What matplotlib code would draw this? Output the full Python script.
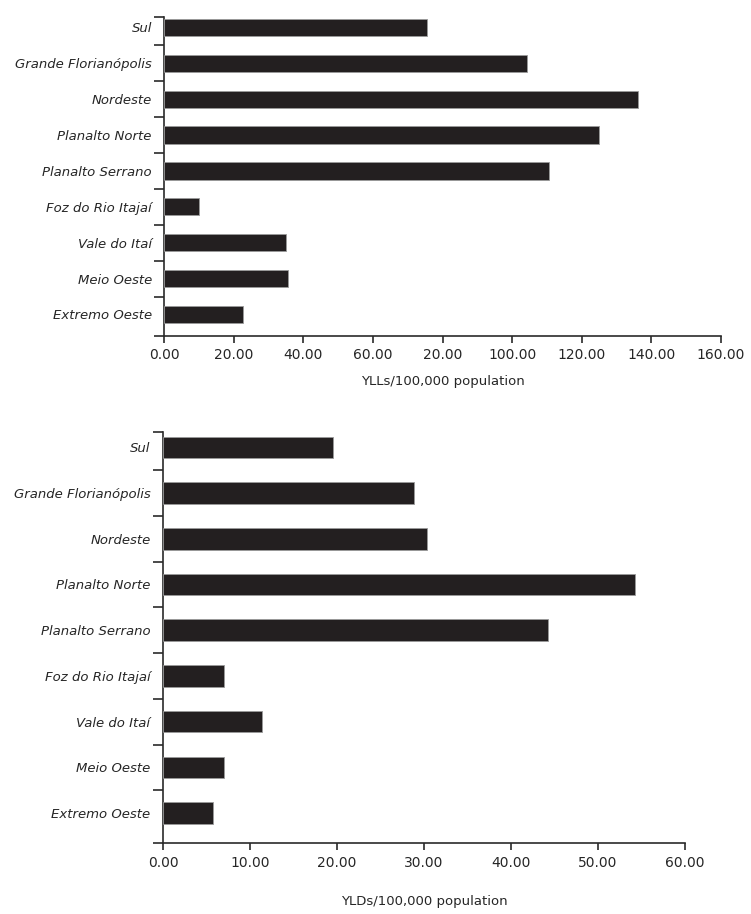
from matplotlib import pyplot as plt
import numpy as np

# categories listed bottom -> top
regions = ["Extremo Oeste", "Meio Oeste", "Vale do Itaí", "Foz do Rio Itajaí",
           "Planalto Serrano", "Planalto Norte", "Nordeste",
           "Grande Florianópolis", "Sul"]

ylls = [22.5, 35.6, 34.9, 10.1, 110.6, 125.0, 136.2, 104.3, 75.5]
ylds = [5.8, 7.05, 11.4, 7.05, 44.3, 54.3, 30.3, 28.9, 19.5]

yll_ticks = [0, 20, 40, 60, 80, 100, 120, 140, 160]
yll_ticklabels = ["0.00", "20.00", "40.00", "60.00", "20.00",
                  "100.00", "120.00", "140.00", "160.00"]
yld_ticks = [0, 10, 20, 30, 40, 50, 60]
yld_ticklabels = ["0.00", "10.00", "20.00", "30.00", "40.00", "50.00", "60.00"]

BAR = "#231f20"
TXT = "#262626"

plt.rcParams['font.family'] = ['DejaVu Sans']


def DrawPanel(ax, values, ticks, ticklabels, xlabel, ylim, bar_h, labelpad):
    pos = np.arange(len(regions))
    ax.barh(pos, values, height=bar_h, color=BAR, edgecolor="#9a9a9a",
            linewidth=0.6, zorder=3)

    ax.set_xlim(ticks[0], ticks[-1])
    ax.set_ylim(*ylim)

    for s in ["top", "right"]:
        ax.spines[s].set_visible(False)
    for s in ["left", "bottom"]:
        ax.spines[s].set_color("#2a2a2a")
        ax.spines[s].set_linewidth(1.2)

    ax.set_xticks(ticks)
    ax.set_xticklabels(ticklabels, fontsize=10, color=TXT)
    ax.tick_params(axis="x", length=5, width=1.2, color="#2a2a2a", pad=4)

    # labels at bar centres, tick marks at category boundaries
    ax.set_yticks(pos)
    ax.set_yticklabels(regions, fontsize=9.5, style="italic", color=TXT)
    ax.tick_params(axis="y", which="major", length=0, pad=9)
    bounds = [ylim[0]] + list(pos[:-1] + 0.5) + [ylim[1]]
    ax.set_yticks(bounds, minor=True)
    ax.tick_params(axis="y", which="minor", length=7, width=1.2, color="#2a2a2a")

    ax.set_xlabel(xlabel, fontsize=9.5, color=TXT, labelpad=labelpad)


fig = plt.figure(figsize=(7.51, 9.14), dpi=100)

ax1 = fig.add_axes([0.2188, 0.6324, 0.7413, 0.3493])
DrawPanel(ax1, ylls, yll_ticks, yll_ticklabels, "YLLs/100,000 population",
          (-0.6, 8.3), 0.48, 9)

ax2 = fig.add_axes([0.217, 0.0774, 0.695, 0.4497])
DrawPanel(ax2, ylds, yld_ticks, yld_ticklabels, "YLDs/100,000 population",
          (-0.66, 8.33), 0.47, 18)

fig.savefig("out.png", dpi=100)
